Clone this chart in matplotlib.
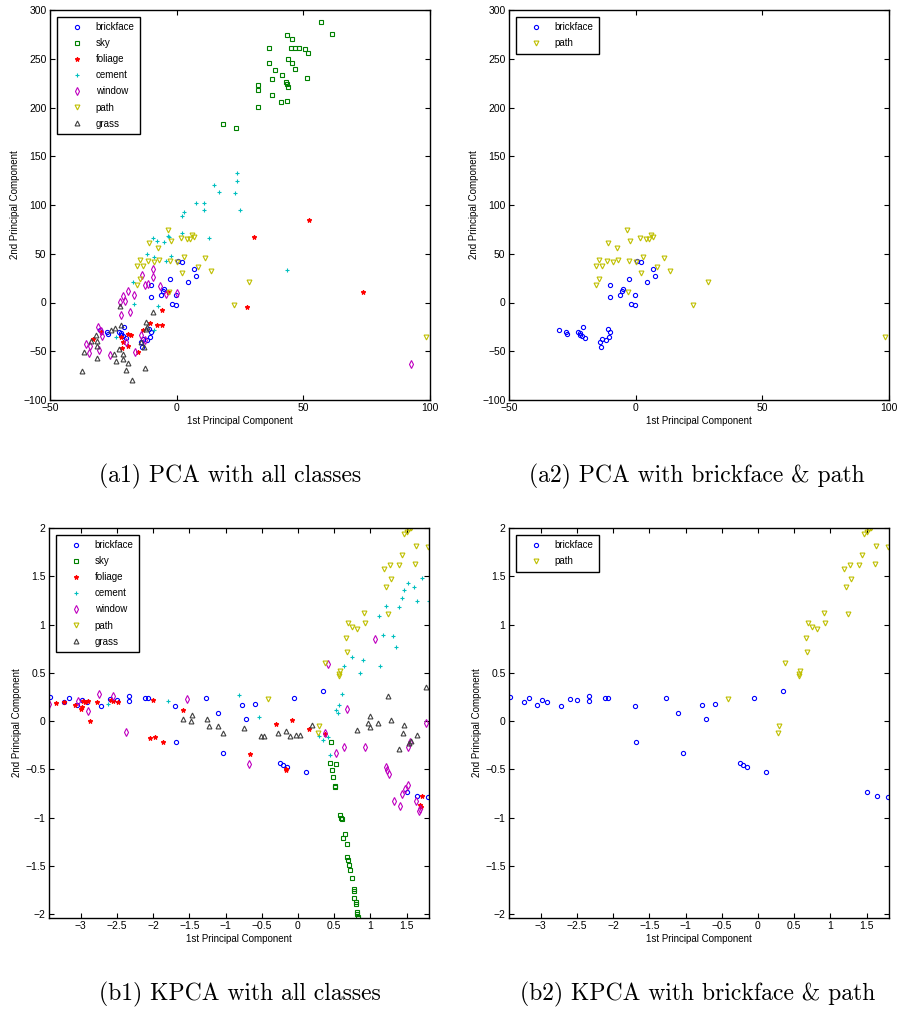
import matplotlib
matplotlib.use("Agg")
import matplotlib.pyplot as plt
from matplotlib.ticker import FuncFormatter

plt.rcParams['font.family'] = ['Liberation Sans', 'DejaVu Sans']

# ---------------- PCA data ----------------
pca_brick_x = [0.4, 2.1, 7.0, 7.8, -2.6, 4.5, -10.0, -5.1, -5.5, -6.3, -10.1, -0.3, -1.8, -0.3,
               -30.4, -27.6, -27.2, -22.6, -22.0, -20.8, -22.1, -21.2, -20.0, -10.9, -10.2,
               -10.7, -11.8, -13.1, -13.9, -13.5]
pca_brick_y = [42.3, 41.2, 34.4, 27.5, 24.1, 21.0, 17.6, 14.2, 11.5, 7.4, 5.3, 8.0, -1.8, -2.6,
               -28.5, -30.6, -32.0, -29.9, -31.0, -25.4, -33.0, -34.7, -36.7, -26.9, -30.6,
               -35.1, -38.8, -37.7, -40.5, -45.6]

pca_path_x = [-3.5, -2.1, 1.7, 4.0, 5.1, 6.2, 6.8, -11.0, -7.2, -14.3, -11.4, -8.9, -7.1, -2.8,
              0.0, 2.8, 11.0, 8.4, -15.5, -13.3, 2.1, 13.7, -14.3, -15.5, -3.1, 28.7, 22.8, 98.4]
pca_path_y = [74.7, 63.1, 65.8, 64.8, 64.8, 69.2, 67.5, 61.0, 55.9, 43.6, 42.9, 41.8, 43.6, 42.3,
              41.2, 46.7, 45.3, 36.4, 37.1, 37.4, 30.6, 32.3, 23.8, 17.6, 10.5, 21.0, -2.9, -35.4]

pca_sky_x = [56.8, 61.2, 43.4, 45.5, 36.4, 45.1, 46.7, 48.2, 50.5, 52.0, 36.3, 43.9, 45.6, 38.7,
             46.7, 41.6, 37.5, 51.3, 32.1, 32.1, 43.1, 43.7, 43.9, 37.7, 41.2, 43.5, 32.1, 18.4, 23.3]
pca_sky_y = [287.7, 275.7, 274.7, 270.3, 261.0, 261.3, 260.7, 261.3, 259.7, 256.0, 245.3, 249.4,
             245.6, 238.8, 239.5, 233.7, 229.5, 229.9, 222.8, 217.6, 226.2, 224.1, 221.3, 212.5,
             205.3, 207.0, 200.2, 183.1, 179.0]

pca_cement_x = [23.8, 23.7, 14.9, 16.8, 23.0, 7.7, 10.9, 10.9, 24.9, 3.0, 2.0, -3.3, -2.9, -9.2,
                -7.9, -4.9, 2.2, 12.9, -11.8, -8.8, -4.2, -2.4, -17.1, -16.7, -7.4, -8.8, -23.8, 43.7]
pca_cement_y = [133.2, 124.6, 120.8, 113.0, 112.6, 102.4, 102.4, 94.5, 95.2, 92.8, 88.4, 68.2,
                66.9, 66.2, 63.4, 61.7, 71.6, 66.5, 50.0, 47.0, 42.9, 47.7, 21.0, -1.5, -3.6,
                -28.2, -35.1, 33.0]

pca_foliage_x = [52.4, 30.5, 73.4, 27.8, -5.7, -10.5, -7.9, -5.9, -3.3, -19.2, -18.0, -21.9,
                 -29.9, -19.1, -21.7, -15.3, -13.4, -33.0, -21.1]
pca_foliage_y = [84.9, 67.2, 10.5, -4.3, -8.0, -21.3, -22.7, -23.4, 10.8, -32.3, -33.3, -35.1,
                 -29.9, -44.3, -47.0, -51.1, -28.2, -37.8, -40.8]

pca_window_x = [92.6, -9.4, -9.2, -13.8, -12.6, -11.5, -19.3, -17.0, -21.3, -20.5, -22.4, -18.4,
                -22.1, -6.6, -4.3, 0.2, -31.1, -30.0, -29.6, -35.7, -34.1, -34.7, -30.7, -26.3,
                -19.9, -14.2, -12.5, -16.6]
pca_window_y = [-62.7, 34.0, 26.5, 28.2, 18.3, 18.5, 12.1, 7.4, 6.7, 1.8, 0.2, -9.7, -12.8, 16.6,
                8.7, 9.4, -24.8, -29.2, -34.0, -42.9, -44.6, -52.1, -48.7, -53.8, -40.2, -33.3,
                -38.5, -51.1]

pca_grass_x = [-9.2, -22.1, -24.5, -26.1, -32.0, -31.5, -33.7, -31.3, -36.6, -31.5, -37.4, -24.6,
               -22.7, -21.2, -24.1, -21.1, -19.3, -20.1, -17.5, -12.4, -12.1, -11.6, -12.0, -14.2,
               -12.9, -22.3]
pca_grass_y = [-10.1, -22.7, -26.5, -28.5, -33.0, -39.5, -39.5, -44.3, -51.1, -57.2, -69.9, -52.5,
               -48.0, -52.5, -60.3, -58.3, -62.4, -69.5, -79.5, -66.8, -20.3, -25.4, -27.5, -40.8,
               -45.3, -3.6]

# ---------------- KPCA data ----------------
kpca_brick_x = [-3.42, -3.23, -3.16, -3.05, -2.98, -2.91, -2.72, -2.60, -2.50, -2.34, -2.33, -2.12,
                -2.07, -1.70, -1.69, -1.27, -1.11, -1.03, -0.78, -0.60, -0.72, -0.06, 0.35, -0.25,
                -0.21, -0.15, 0.11, 1.51, 1.65, 1.79]
kpca_brick_y = [0.246, 0.197, 0.243, 0.170, 0.222, 0.194, 0.160, 0.228, 0.222, 0.212, 0.256, 0.239,
                0.239, 0.152, -0.218, 0.239, 0.083, -0.335, 0.166, 0.173, 0.021, 0.235, 0.311,
                -0.436, -0.460, -0.480, -0.529, -0.733, -0.778, -0.784]

kpca_path_x = [-0.41, 0.29, 0.27, 0.57, 0.57, 0.58, 0.37, 0.68, 0.67, 0.69, 0.74, 0.82, 0.93, 0.91,
               1.24, 1.21, 1.28, 1.19, 1.27, 1.39, 1.44, 1.61, 1.63, 1.79, 1.47, 1.50, 1.53, 1.56]
kpca_path_y = [0.225, -0.055, -0.128, 0.49, 0.47, 0.52, 0.606, 0.713, 0.865, 1.017, 0.975, 0.958,
               1.017, 1.12, 1.114, 1.387, 1.473, 1.574, 1.612, 1.612, 1.719, 1.629, 1.812, 1.805,
               1.934, 1.961, 1.989, 1.996]

kpca_sky_x = [0.45, 0.44, 0.53, 0.47, 0.48, 0.51, 0.51, 0.58, 0.60, 0.61, 0.65, 0.62, 0.68, 0.68,
              0.69, 0.71, 0.72, 0.74, 0.77, 0.77, 0.78, 0.80, 0.80, 0.81, 0.82, 0.83, 0.83]
kpca_sky_y = [-0.214, -0.432, -0.442, -0.511, -0.584, -0.67, -0.68, -0.968, -1.002, -1.01, -1.172,
              -1.214, -1.272, -1.404, -1.438, -1.494, -1.538, -1.629, -1.739, -1.76, -1.832, -1.878,
              -1.90, -1.977, -1.998, -2.026, -2.04]

kpca_foliage_x = [-3.34, -3.23, -3.08, -3.00, -2.98, -2.97, -2.94, -2.90, -2.87, -2.78, -2.59,
                  -2.55, -2.49, -2.01, -1.59, -2.05, -1.98, -1.86, -0.30, -0.08, 0.15, -0.66,
                  -0.16, -0.17, 0.38, 1.71, 1.69, 1.70]
kpca_foliage_y = [0.191, 0.201, 0.170, 0.121, 0.145, 0.207, 0.197, 0.204, 0.0, 0.201, 0.215, 0.204,
                  0.197, 0.218, 0.118, -0.179, -0.169, -0.221, -0.034, 0.01, -0.086, -0.345,
                  -0.494, -0.51, -0.131, -0.781, -0.867, -0.885]

kpca_cement_x = [-2.62, -1.80, -0.81, -0.54, 0.52, 0.55, 0.56, 0.61, 0.64, 0.74, 0.86, 0.90, 1.13,
                 1.17, 1.31, 1.36, 1.12, 1.22, 1.39, 1.44, 1.47, 1.52, 1.60, 1.64, 1.71, 1.81,
                 0.29, 0.34, 0.41, 0.44]
kpca_cement_y = [0.18, 0.212, 0.267, 0.038, 0.111, 0.08, 0.17, 0.28, 0.567, 0.664, 0.502, 0.633,
                 0.575, 0.889, 0.882, 0.765, 1.093, 1.19, 1.183, 1.273, 1.353, 1.432, 1.384, 1.242,
                 1.483, 1.242, -0.156, -0.193, -0.166, -0.353]

kpca_window_x = [-3.44, -3.04, -2.90, -2.75, -2.56, -2.38, -1.54, -0.68, 0.37, 0.52, 0.64, 0.93,
                 0.68, 1.22, 1.23, 1.26, 1.52, 1.55, 1.77, 1.52, 1.48, 1.44, 1.33, 1.41, 1.63,
                 1.67, 1.69, 1.06, 0.42]
kpca_window_y = [0.173, 0.207, 0.104, 0.28, 0.256, -0.114, 0.232, -0.449, -0.128, -0.332, -0.27,
                 -0.27, 0.129, -0.48, -0.511, -0.546, -0.27, -0.218, -0.024, -0.66, -0.708, -0.76,
                 -0.833, -0.882, -0.826, -0.93, -0.906, 0.848, 0.588]

kpca_grass_x = [-1.59, -1.47, -1.48, -1.26, -1.23, -1.10, -1.04, -0.75, -0.51, -0.47, -0.27, -0.17,
                -0.11, -0.03, 0.03, 0.20, 0.81, 1.00, 0.97, 0.99, 1.10, 1.29, 1.46, 1.45, 1.64,
                1.56, 1.54, 1.40, 1.24, 1.77]
kpca_grass_y = [0.018, 0.066, 0.0, 0.025, -0.052, -0.052, -0.12, -0.073, -0.152, -0.156, -0.128,
                -0.107, -0.152, -0.141, -0.141, -0.045, -0.089, 0.049, -0.017, -0.058, -0.024,
                0.015, -0.045, -0.124, -0.141, -0.207, -0.228, -0.294, 0.256, 0.357]

# ---------------- axes text ----------------
pca_xticks = [-50, 0, 50, 100]
pca_yticks = [-100, -50, 0, 50, 100, 150, 200, 250, 300]
kpca_xticks = [-3, -2.5, -2, -1.5, -1, -0.5, 0, 0.5, 1, 1.5]
kpca_yticks = [-2, -1.5, -1, -0.5, 0, 0.5, 1, 1.5, 2]
captions = ["(a1) PCA with all classes", "(a2) PCA with brickface & path",
            "(b1) KPCA with all classes", "(b2) KPCA with brickface & path"]

W, H = 897, 1011
fig = plt.figure(figsize=(W / 100, H / 100), dpi=100)


def px_axes(l, t, r, b):
    return fig.add_axes([l / W, 1 - b / H, (r - l) / W, (b - t) / H])


STYLE = {
    'brickface': dict(marker='o', color=(0, 0, 1), ms=3.0, hollow=True),
    'sky': dict(marker='s', color=(0, 0.5, 0), ms=2.8, hollow=True),
    'foliage': dict(marker='*', color=(1, 0, 0), ms=3.3, hollow=False),
    'cement': dict(marker='+', color=(0, 0.75, 0.75), ms=3.5, hollow=False),
    'window': dict(marker='d', color=(0.75, 0, 0.75), ms=3.7, hollow=True),
    'path': dict(marker='v', color=(0.75, 0.75, 0), ms=3.5, hollow=True),
    'grass': dict(marker='^', color=(0.25, 0.25, 0.25), ms=3.5, hollow=True),
}


def draw(ax, name, x, y):
    s = STYLE[name]
    ax.plot(x, y, linestyle='none', marker=s['marker'], ms=s['ms'],
            mec=s['color'], mfc='none' if s['hollow'] else s['color'],
            mew=0.8, label=name)


def style_axes(ax, xlim, ylim, xt, yt):
    ax.set_xlim(*xlim)
    ax.set_ylim(*ylim)
    ax.set_xticks(xt)
    ax.set_yticks(yt)
    fmt = FuncFormatter(lambda v, p: ('%g' % v).replace('-', '\u2212'))
    ax.xaxis.set_major_formatter(fmt)
    ax.yaxis.set_major_formatter(fmt)
    ax.tick_params(direction='in', top=True, right=True, length=3.5, width=0.8,
                   labelsize=7.5, pad=2.5)
    for sp in ax.spines.values():
        sp.set_linewidth(1.0)
    ax.set_xlabel('1st Principal Component', fontsize=7, labelpad=2)
    ax.set_ylabel('2nd Principal Component', fontsize=7, labelpad=2)


def legend(ax):
    leg = ax.legend(loc='upper left', bbox_to_anchor=(0.018, 0.982), borderaxespad=0,
                    fontsize=7, frameon=True, fancybox=False, edgecolor='black',
                    framealpha=1, handlelength=3, handletextpad=0.45, borderpad=0.55,
                    labelspacing=0.62, numpoints=1)
    leg.get_frame().set_linewidth(1.0)


all_classes = ['brickface', 'sky', 'foliage', 'cement', 'window', 'path', 'grass']
pca_data = {
    'brickface': (pca_brick_x, pca_brick_y), 'sky': (pca_sky_x, pca_sky_y),
    'foliage': (pca_foliage_x, pca_foliage_y), 'cement': (pca_cement_x, pca_cement_y),
    'window': (pca_window_x, pca_window_y), 'path': (pca_path_x, pca_path_y),
    'grass': (pca_grass_x, pca_grass_y),
}
kpca_data = {
    'brickface': (kpca_brick_x, kpca_brick_y), 'sky': (kpca_sky_x, kpca_sky_y),
    'foliage': (kpca_foliage_x, kpca_foliage_y), 'cement': (kpca_cement_x, kpca_cement_y),
    'window': (kpca_window_x, kpca_window_y), 'path': (kpca_path_x, kpca_path_y),
    'grass': (kpca_grass_x, kpca_grass_y),
}

a1 = px_axes(50, 10, 430, 400)
a2 = px_axes(509, 10, 889, 400)
b1 = px_axes(49, 528, 429, 918)
b2 = px_axes(509, 528, 889, 918)

for ax, data, classes, lims, ticks in [
        (a1, pca_data, all_classes, ((-50, 100), (-100, 300)), (pca_xticks, pca_yticks)),
        (a2, pca_data, ['brickface', 'path'], ((-50, 100), (-100, 300)), (pca_xticks, pca_yticks)),
        (b1, kpca_data, all_classes, ((-3.44, 1.81), (-2.04, 2.0)), (kpca_xticks, kpca_yticks)),
        (b2, kpca_data, ['brickface', 'path'], ((-3.44, 1.81), (-2.04, 2.0)), (kpca_xticks, kpca_yticks))]:
    for c in classes:
        draw(ax, c, *data[c])
    style_axes(ax, lims[0], lims[1], ticks[0], ticks[1])
    legend(ax)

cap_pos = [(230, 476), (697, 476), (240, 994), (698, 994)]
for (cx, cy), txt in zip(cap_pos, captions):
    fig.text(cx / W, 1 - cy / H, txt, ha='center', va='center', fontsize=17,
             family=['cmr10', 'DejaVu Serif'])

fig.savefig('out.png', dpi=100)
